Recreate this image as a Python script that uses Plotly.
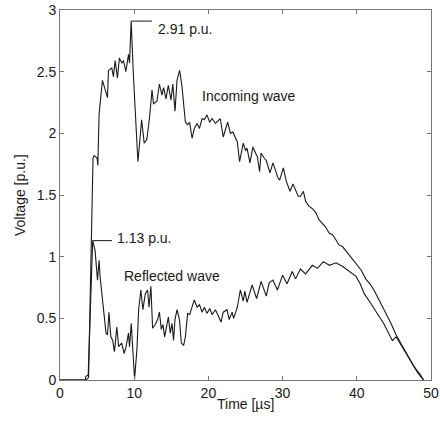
import plotly.graph_objects as go

# ---- data ----
t_incoming = [0, 3.5, 3.85, 4.45, 4.6, 5.0, 5.1, 5.27, 5.72, 6.08, 6.4, 6.53, 6.98, 7.2, 7.43, 7.74,
              8.0, 8.33, 8.56, 8.87, 9.23, 9.37, 9.59, 9.9, 10.36, 10.5, 10.8, 11.0, 11.35, 11.7,
              12.07, 12.4, 12.6, 13.06, 13.4, 13.74, 13.96, 14.28, 14.6, 14.96, 15.2, 15.5, 15.77,
              16.12, 16.44, 16.9, 17.2, 17.47, 17.8, 18.1, 18.47, 18.8, 19.15, 19.46, 19.8, 20.18,
              20.5, 20.95, 21.6, 22.0, 22.6, 22.97, 23.3, 23.65, 23.9, 24.2, 24.7, 25.0, 25.2,
              25.6, 26.0, 26.35, 26.6, 26.9, 27.1, 27.5, 27.8, 28.3, 28.7, 29.05, 29.3, 29.6,
              30.1, 30.5, 31.0, 31.4, 31.75, 32.1, 32.4, 32.8, 33.1, 33.55, 34.0, 34.46, 34.9,
              35.4, 35.8, 36.3, 36.7, 37.2, 37.6, 38.1, 38.5, 39.0, 39.6, 40.1, 40.6, 41.2, 41.9,
              42.4, 43.0, 43.9, 44.6, 45.3, 45.9, 46.4, 46.85, 47.3, 47.7, 48.2, 48.6, 49.0]
v_incoming = [0, 0, 0.02, 1.80, 1.82, 1.80, 1.74, 2.16, 2.43, 2.35, 2.29, 2.51, 2.53, 2.46, 2.59, 2.45,
              2.61, 2.57, 2.59, 2.50, 2.64, 2.57, 2.91, 2.46, 1.92, 1.77, 1.97, 2.11, 1.92, 1.95,
              2.13, 2.35, 2.24, 2.26, 2.40, 2.31, 2.37, 2.28, 2.39, 2.27, 2.40, 2.18, 2.43,
              2.51, 2.38, 2.09, 2.07, 2.09, 1.96, 2.04, 2.08, 2.04, 2.12, 2.11, 2.15, 2.09,
              2.12, 2.08, 2.12, 1.97, 2.09, 2.00, 2.01, 1.97, 1.93, 1.77, 1.92, 1.86, 1.88,
              1.76, 1.89, 1.84, 1.81, 1.69, 1.84, 1.80, 1.78, 1.68, 1.76, 1.70, 1.65, 1.62,
              1.72, 1.61, 1.53, 1.59, 1.54, 1.49, 1.49, 1.53, 1.45, 1.41, 1.39, 1.36, 1.30,
              1.27, 1.24, 1.19, 1.18, 1.135, 1.095, 1.08, 1.05, 1.01, 0.96, 0.93, 0.89, 0.82, 0.77,
              0.72, 0.65, 0.55, 0.46, 0.365, 0.30, 0.25, 0.19, 0.15, 0.11, 0.07, 0.04, 0]

t_reflected = [0, 3.4, 3.5, 3.8, 4.4, 4.73, 5.05, 5.27, 5.4, 5.63, 5.95, 6.2, 6.4, 6.6, 6.85, 7.1,
               7.34, 7.66, 7.9, 8.3, 8.65, 8.9, 9.23, 9.37, 9.6, 9.77, 10.05, 10.36, 10.6, 10.9,
               11.17, 11.5, 11.8, 12.0, 12.25, 12.48, 12.84, 13.15, 13.4, 13.65, 13.88, 14.1, 14.4,
               14.6, 14.86, 15.1, 15.3, 15.5, 15.77, 16.1, 16.35, 16.66, 16.9, 17.2, 17.47, 17.8,
               18.1, 18.47, 18.8, 19.15, 19.46, 19.8, 20.18, 20.5, 20.95, 21.4, 21.7, 22.0, 22.5,
               22.8, 23.2, 23.4, 23.9, 24.3, 24.7, 24.9, 25.2, 25.9, 26.5, 27.1, 27.8, 28.2, 28.7,
               29.3, 30.0, 30.6, 31.3, 31.75, 32.4, 33.1, 34.0, 34.7, 35.5, 36.3, 37.2, 38.1,
               39.0, 39.9, 40.45, 41.0, 41.9, 42.8, 43.7, 44.4, 44.8, 45.3, 45.9, 46.4, 46.85,
               47.3, 47.7, 48.2, 48.6, 49.0]
v_reflected = [0, 0, 0.03, 0.04, 1.13, 1.05, 0.81, 0.97, 0.84, 0.70, 0.53, 0.38, 0.365, 0.55, 0.35, 0.32,
               0.23, 0.43, 0.27, 0.30, 0.215, 0.27, 0.38, 0.27, 0.46, 0.27, 0.01, 0.24, 0.57, 0.73,
               0.57, 0.70, 0.73, 0.59, 0.76, 0.42, 0.45, 0.49, 0.55, 0.41, 0.45, 0.35, 0.46,
               0.51, 0.38, 0.46, 0.32, 0.49, 0.57, 0.49, 0.30, 0.28, 0.35, 0.54, 0.53, 0.59,
               0.65, 0.59, 0.61, 0.55, 0.59, 0.54, 0.58, 0.53, 0.57, 0.51, 0.47, 0.55, 0.57,
               0.49, 0.55, 0.50, 0.59, 0.73, 0.64, 0.72, 0.63, 0.77, 0.66, 0.80, 0.68, 0.79, 0.81,
               0.73, 0.85, 0.78, 0.88, 0.82, 0.90, 0.86, 0.93, 0.905, 0.96, 0.93, 0.95, 0.92,
               0.88, 0.84, 0.78, 0.70, 0.62, 0.54, 0.45, 0.365, 0.32, 0.35, 0.29, 0.24, 0.19,
               0.14, 0.10, 0.06, 0.03, 0]

x_ticks = [0, 10, 20, 30, 40, 50]
y_ticks = [0, 0.5, 1, 1.5, 2, 2.5, 3]
y_tick_labels = ["0", "0.5", "1", "1.5", "2", "2.5", "3"]

label_incoming = "Incoming wave"
label_reflected = "Reflected wave"

FONT = "Liberation Sans, Arial, sans-serif"
INK = "#1a1a1a"

fig = go.Figure()
fig.add_trace(go.Scatter(x=t_incoming, y=v_incoming, mode="lines",
                         line=dict(color=INK, width=1.1), showlegend=False))
fig.add_trace(go.Scatter(x=t_reflected, y=v_reflected, mode="lines",
                         line=dict(color=INK, width=1.1), showlegend=False))

# peak markers (leader lines) derived from the data
pk_in = max(v_incoming)
tk_in = t_incoming[v_incoming.index(pk_in)]
pk_re = max(v_reflected)
tk_re = t_reflected[v_reflected.index(pk_re)]

fig.add_trace(go.Scatter(x=[tk_in, tk_in + 2.8], y=[pk_in, pk_in], mode="lines",
                         line=dict(color=INK, width=1), showlegend=False))
fig.add_trace(go.Scatter(x=[tk_re, tk_re + 2.6], y=[pk_re, pk_re], mode="lines",
                         line=dict(color=INK, width=1), showlegend=False))

ann_font = dict(family=FONT, size=14, color=INK)
fig.add_annotation(x=tk_in + 3.4, y=pk_in, text=f"{pk_in:.2f} p.u.", showarrow=False,
                   xanchor="left", yanchor="middle", yshift=-8, font=ann_font)
fig.add_annotation(x=tk_re + 3.0, y=pk_re, text=f"{pk_re:.2f} p.u.", showarrow=False,
                   xanchor="left", yanchor="middle", yshift=3, font=ann_font)
fig.add_annotation(x=18.9, y=2.30, text=label_incoming, showarrow=False,
                   xanchor="left", yanchor="middle", font=ann_font)
fig.add_annotation(x=8.3, y=0.84, text=label_reflected, showarrow=False,
                   xanchor="left", yanchor="middle", font=ann_font)

# axis titles
fig.add_annotation(xref="paper", yref="paper", x=0.5, y=0, yshift=-24, text="Time [µs]",
                   showarrow=False, xanchor="center", yanchor="middle", font=ann_font)
fig.add_annotation(xref="paper", yref="paper", x=0, y=0.5, xshift=-40, text="Voltage [p.u.]",
                   showarrow=False, textangle=-90, xanchor="center", yanchor="middle", font=ann_font)

axis_common = dict(showline=True, linecolor="#777", linewidth=1, mirror="ticks",
                   ticks="inside", ticklen=4, tickcolor="#777", showgrid=False, zeroline=False,
                   automargin=False,
                   tickfont=dict(family=FONT, size=14, color=INK))

fig.update_layout(
    width=440, height=426,
    margin=dict(l=60, r=9, t=10, b=46),
    paper_bgcolor="white", plot_bgcolor="white",
    xaxis=dict(range=[0, 50], tickvals=x_ticks, **axis_common),
    yaxis=dict(range=[0, 3], tickvals=y_ticks, ticktext=y_tick_labels, **axis_common),
)

# remove the default page margin so the figure sits at the window's top-left corner
fig.write_html("out.html", config={"displayModeBar": False},
               post_script="document.body.style.margin='0';document.body.style.overflow='hidden';")
